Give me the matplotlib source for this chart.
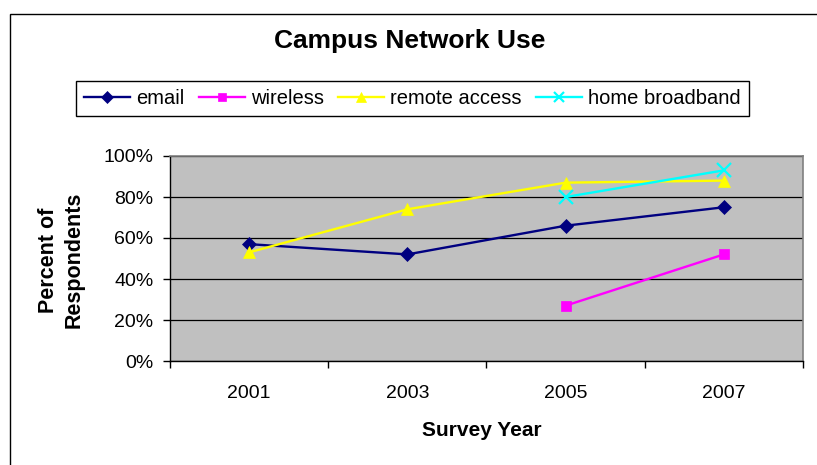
import matplotlib
matplotlib.use("Agg")
import matplotlib.pyplot as plt
import numpy as np
from matplotlib.patches import Rectangle

plt.rcParams['font.family'] = ['Liberation Sans', 'DejaVu Sans']

years = ["2001", "2003", "2005", "2007"]
email = [57, 52, 66, 75]
wireless = [np.nan, np.nan, 27, 52]
remote_access = [53, 74, 87, 88]
home_broadband = [np.nan, np.nan, 80, 93]
y_ticks = [0, 20, 40, 60, 80, 100]

W, H = 817, 465
fig = plt.figure(figsize=(W / 100, H / 100), dpi=100)
fig.patch.set_facecolor("white")

# chart border
fig.add_artist(Rectangle((10 / W, -0.1), 1.2, 1 - 14 / H + 0.1, transform=fig.transFigure,
                         fill=False, edgecolor="black", linewidth=1))

ax = fig.add_axes([170 / W, 1 - 361 / H, (803 - 170) / W, (361 - 156) / H])
ax.set_facecolor("#C0C0C0")

x = np.arange(len(years))
series = [
    ("email", email, "#000080", "D", 7.5),
    ("wireless", wireless, "#FF00FF", "s", 7.5),
    ("remote access", remote_access, "#FFFF00", "^", 9),
    ("home broadband", home_broadband, "#00FFFF", "x", 10),
]
handles = []
for name, vals, col, mk, ms in series:
    h, = ax.plot(x, vals, color=col, marker=mk, markersize=ms, linewidth=1.7,
                 markeredgewidth=1.6 if mk == "x" else 0.5, markeredgecolor=col,
                 label=name, zorder=3)
    handles.append(h)

ax.set_xlim(-0.5, 3.5)
ax.set_ylim(0, 100)
ax.set_yticks(y_ticks)
ax.set_yticklabels([f"{v}%" for v in y_ticks], fontsize=14)
ax.yaxis.grid(True, color="black", linewidth=0.9)
ax.set_axisbelow(True)
ax.tick_params(axis="y", length=5, width=1, direction="out", pad=7)

ax.set_xticks(x)
ax.set_xticklabels(years, fontsize=14)
ax.set_xticks(np.arange(-0.5, 4, 1), minor=True)
ax.tick_params(axis="x", which="major", length=0, pad=17)
ax.tick_params(axis="x", which="minor", length=5, width=1, direction="out")

for s in ["top", "right"]:
    ax.spines[s].set_color("#808080")
    ax.spines[s].set_linewidth(1.2)
for s in ["left", "bottom"]:
    ax.spines[s].set_color("black")
    ax.spines[s].set_linewidth(1)

fig.text(482 / W, 1 - 430 / H, "Survey Year", fontsize=15, fontweight="bold",
         ha="center", va="center")
fig.text(61 / W, 1 - 260 / H, "Percent of\nRespondents", rotation=90, fontsize=15.5,
         fontweight="bold", ha="center", va="center", linespacing=1.3)

fig.text(410 / W, 1 - 41 / H, "Campus Network Use", fontsize=19, fontweight="bold",
         ha="center", va="center")

leg = fig.legend(handles=handles, loc="center", ncol=4,
                 bbox_to_anchor=(412.5 / W, 1 - 98.5 / H), fontsize=14.5,
                 frameon=True, fancybox=False, edgecolor="black", framealpha=1,
                 handlelength=2.3, handletextpad=0.3, columnspacing=0.7,
                 borderpad=0.4, markerscale=0.75)
leg.get_frame().set_linewidth(1)

fig.savefig("out.png", dpi=100)
